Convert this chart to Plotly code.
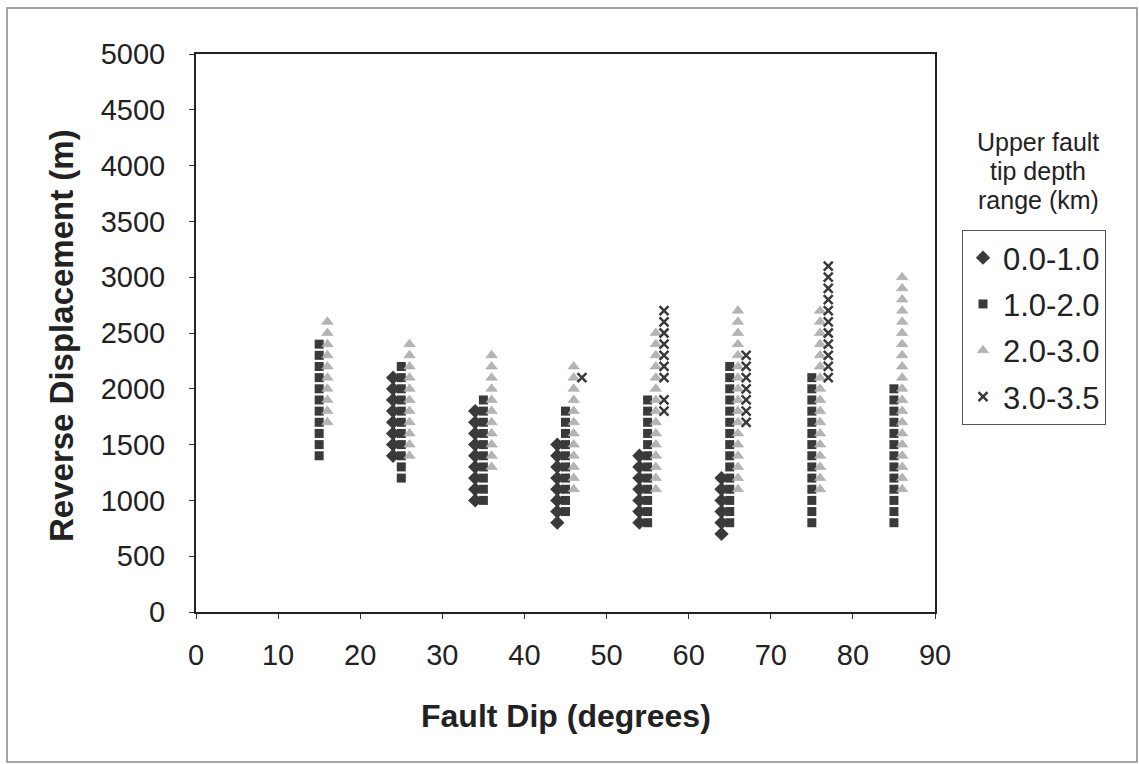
import plotly.graph_objects as go

# ---- data (Fault dip in degrees, reverse displacement in m) ----
s1_name = "0.0-1.0"
s1_x = [24]*8 + [34]*9 + [44]*8 + [54]*7 + [64]*6
s1_y = [2100, 2000, 1900, 1800, 1700, 1600, 1500, 1400,
        1800, 1700, 1600, 1500, 1400, 1300, 1200, 1100, 1000,
        1500, 1400, 1300, 1200, 1100, 1000, 900, 800,
        1400, 1300, 1200, 1100, 1000, 900, 800,
        1200, 1100, 1000, 900, 800, 700]

s2_name = "1.0-2.0"
s2_x = [15]*11 + [25]*11 + [35]*10 + [45]*10 + [55]*12 + [65]*15 + [75]*14 + [85]*13
s2_y = [2400, 2300, 2200, 2100, 2000, 1900, 1800, 1700, 1600, 1500, 1400,
        2200, 2100, 2000, 1900, 1800, 1700, 1600, 1500, 1400, 1300, 1200,
        1900, 1800, 1700, 1600, 1500, 1400, 1300, 1200, 1100, 1000,
        1800, 1700, 1600, 1500, 1400, 1300, 1200, 1100, 1000, 900,
        1900, 1800, 1700, 1600, 1500, 1400, 1300, 1200, 1100, 1000, 900, 800,
        2200, 2100, 2000, 1900, 1800, 1700, 1600, 1500, 1400, 1300, 1200, 1100, 1000, 900, 800,
        2100, 2000, 1900, 1800, 1700, 1600, 1500, 1400, 1300, 1200, 1100, 1000, 900, 800,
        2000, 1900, 1800, 1700, 1600, 1500, 1400, 1300, 1200, 1100, 1000, 900, 800]

s3_name = "2.0-3.0"
s3_x = [16]*10 + [26]*11 + [36]*11 + [46]*12 + [56]*15 + [66]*17 + [76]*17 + [86]*20
s3_y = [2600, 2500, 2400, 2300, 2200, 2100, 2000, 1900, 1800, 1700,
        2400, 2300, 2200, 2100, 2000, 1900, 1800, 1700, 1600, 1500, 1400,
        2300, 2200, 2100, 2000, 1900, 1800, 1700, 1600, 1500, 1400, 1300,
        2200, 2100, 2000, 1900, 1800, 1700, 1600, 1500, 1400, 1300, 1200, 1100,
        2500, 2400, 2300, 2200, 2100, 2000, 1900, 1800, 1700, 1600, 1500, 1400, 1300, 1200, 1100,
        2700, 2600, 2500, 2400, 2300, 2200, 2100, 2000, 1900, 1800, 1700, 1600, 1500, 1400, 1300, 1200, 1100,
        2700, 2600, 2500, 2400, 2300, 2200, 2100, 2000, 1900, 1800, 1700, 1600, 1500, 1400, 1300, 1200, 1100,
        3000, 2900, 2800, 2700, 2600, 2500, 2400, 2300, 2200, 2100, 2000, 1900, 1800, 1700, 1600, 1500, 1400, 1300, 1200, 1100]

s4_name = "3.0-3.5"
s4_x = [47] + [57]*9 + [67]*7 + [77]*11
s4_y = [2100,
        2700, 2600, 2500, 2400, 2300, 2200, 2100, 1900, 1800,
        2300, 2200, 2100, 2000, 1900, 1800, 1700,
        3100, 3000, 2900, 2800, 2700, 2600, 2500, 2400, 2300, 2200, 2100]

x_ticks = [0, 10, 20, 30, 40, 50, 60, 70, 80, 90]
y_ticks = [0, 500, 1000, 1500, 2000, 2500, 3000, 3500, 4000, 4500, 5000]
legend_title_lines = ["Upper fault", "tip depth", "range (km)"]

FONT = "Arial, Liberation Sans, sans-serif"
DARK = "#3a3a3a"
LIGHT = "#b4b4b4"

fig = go.Figure()
fig.add_trace(go.Scatter(x=s1_x, y=s1_y, mode="markers", name=s1_name, legendgroup="a",
                         marker=dict(symbol="diamond", size=11, color=DARK)))
fig.add_trace(go.Scatter(x=s2_x, y=s2_y, mode="markers", name=s2_name, legendgroup="b",
                         marker=dict(symbol="square", size=9, color=DARK)))
fig.add_trace(go.Scatter(x=s3_x, y=s3_y, mode="markers", name=s3_name, legendgroup="c",
                         marker=dict(symbol="triangle-up", size=10, color=LIGHT,
                                     line=dict(color="#a0a0a0", width=0.5))))
fig.add_trace(go.Scatter(x=s4_x, y=s4_y, mode="markers", name=s4_name, legendgroup="d",
                         marker=dict(symbol="x-thin-open", size=9, color=DARK,
                                     line=dict(color=DARK, width=2.5))))

# plot area in pixels: left 196, right 935, top 54, bottom 612
L, R, T, B = 196, 935, 54, 612
W, H = 1139, 764
pw, ph = R - L, B - T

def px(x):
    return (x - L) / pw

def py(y):
    return (B - y) / ph

fig.update_layout(
    width=W, height=H,
    margin=dict(l=L, r=W - R, t=T, b=H - B, pad=0),
    paper_bgcolor="white", plot_bgcolor="white",
    font=dict(family=FONT, color="#222222"),
    xaxis=dict(range=[0, 90], tickvals=x_ticks, ticks="outside", ticklen=5,
               tickcolor="#333", showgrid=False, zeroline=False,
               showline=True, linecolor="#222", linewidth=2, mirror=True,
               tickfont=dict(size=29, family=FONT), ticklabelstandoff=11,
               title=dict(text="")),
    yaxis=dict(range=[0, 5000], tickvals=y_ticks, ticks="outside", ticklen=5,
               tickcolor="#333", showgrid=False, zeroline=False,
               showline=True, linecolor="#222", linewidth=2, mirror=True,
               tickfont=dict(size=29, family=FONT), ticklabelstandoff=18,
               title=dict(text="")),
    legend=dict(x=px(962), y=py(230), xanchor="left", yanchor="top",
                bordercolor="#555", borderwidth=1, bgcolor="white",
                font=dict(size=31, family=FONT), tracegroupgap=3,
                itemwidth=30),
    showlegend=True,
)

# axis titles
fig.add_annotation(x=px(566), y=py(716), xref="paper", yref="paper",
                   xanchor="center", yanchor="middle",
                   text="<b>Fault Dip (degrees)</b>", showarrow=False,
                   font=dict(size=32, family=FONT, color="#222"))
fig.add_annotation(x=px(61), y=py(336), xref="paper", yref="paper",
                   xanchor="center", yanchor="middle",
                   text="<b>Reverse Displacement (m)</b>", showarrow=False, textangle=-90,
                   font=dict(size=33, family=FONT, color="#222"))

# legend title lines
for i, line in enumerate(legend_title_lines):
    fig.add_annotation(x=px(1038), y=py(142 + 29 * i), xref="paper", yref="paper",
                       xanchor="center", yanchor="middle",
                       text=line, showarrow=False,
                       font=dict(size=25, family=FONT, color="#222"))

fig.add_shape(type="rect", xref="paper", yref="paper",
              x0=px(7), x1=px(1137), y0=py(762), y1=py(8),
              line=dict(color="#888", width=1.5), fillcolor="rgba(0,0,0,0)", layer="below")

fig.write_html("out.html", config={"displayModeBar": False},
               post_script="document.body.style.margin='0';document.body.style.overflow='hidden';")
